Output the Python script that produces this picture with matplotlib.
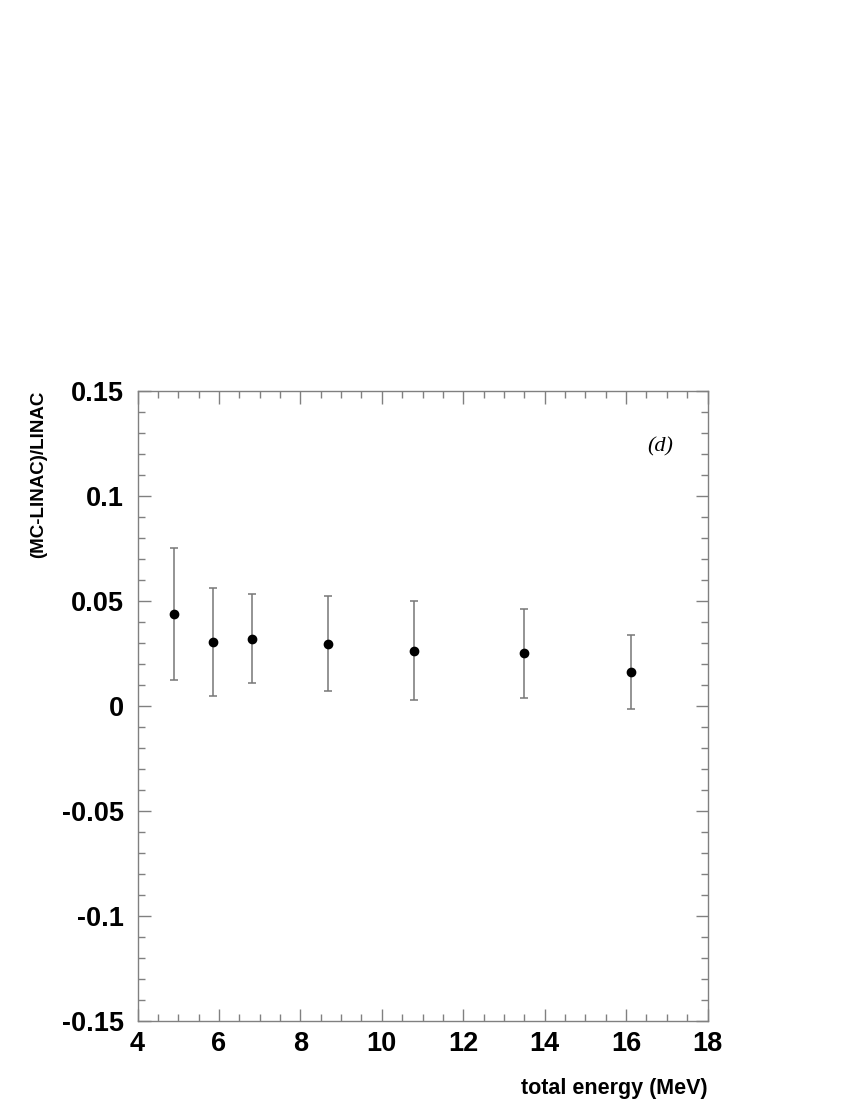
import matplotlib.pyplot as plt
from matplotlib.ticker import MultipleLocator, FuncFormatter
import numpy as np

# data
energy = [4.9, 5.85, 6.81, 8.68, 10.8, 13.48, 16.11]
ratio = [0.0438, 0.0305, 0.0320, 0.0297, 0.0263, 0.0252, 0.0162]
err_up = [0.0754, 0.0563, 0.0532, 0.0525, 0.0500, 0.0463, 0.0340]
err_lo = [0.0122, 0.0046, 0.0108, 0.0070, 0.0029, 0.0040, -0.0016]

plt.rcParams['font.family'] = ['Liberation Sans', 'DejaVu Sans']

fig = plt.figure(figsize=(8.5, 11), dpi=100)
ax = fig.add_axes([0.1618, 0.0718, 0.6706, 0.5727])

y = np.array(ratio)
yerr = [y - np.array(err_lo), np.array(err_up) - y]
ax.errorbar(energy, ratio, yerr=yerr, fmt='o', color='black', ms=6,
            ecolor='#777777', elinewidth=1.1, capsize=3, capthick=1.1)

ax.set_xlim(4, 18)
ax.set_ylim(-0.15, 0.15)
ax.xaxis.set_major_locator(MultipleLocator(2))
ax.xaxis.set_minor_locator(MultipleLocator(0.5))
ax.yaxis.set_major_locator(MultipleLocator(0.05))
ax.yaxis.set_minor_locator(MultipleLocator(0.01))

def yfmt(v, pos):
    if abs(v) < 1e-9:
        return '0'
    return ('%.2f' % v).rstrip('0')

ax.yaxis.set_major_formatter(FuncFormatter(yfmt))

ax.tick_params(which='both', direction='in', top=True, right=True,
               color='#808080', labelsize=19.5, width=1)
ax.tick_params(which='major', length=9)
ax.tick_params(which='minor', length=5)
ax.tick_params(axis='y', pad=10)
ax.tick_params(axis='x', pad=7)
for lab in ax.get_xticklabels() + ax.get_yticklabels():
    lab.set_fontweight('bold')
for s in ax.spines.values():
    s.set_color('#808080')
    s.set_linewidth(1)

ax.text(16.84, 0.1233, '(d)', fontsize=16, style='italic',
        family=['Liberation Serif', 'DejaVu Serif'], ha='center', va='center')

fig.text(0.8324, 0.0105, 'total energy (MeV)', ha='right', va='center',
         fontsize=15.5, fontweight='bold')
fig.text(0.046, 0.6445, '(MC-LINAC)/LINAC', ha='center', va='top',
         rotation=90, fontsize=13.5, fontweight='bold')

fig.savefig('out.png', dpi=100)
